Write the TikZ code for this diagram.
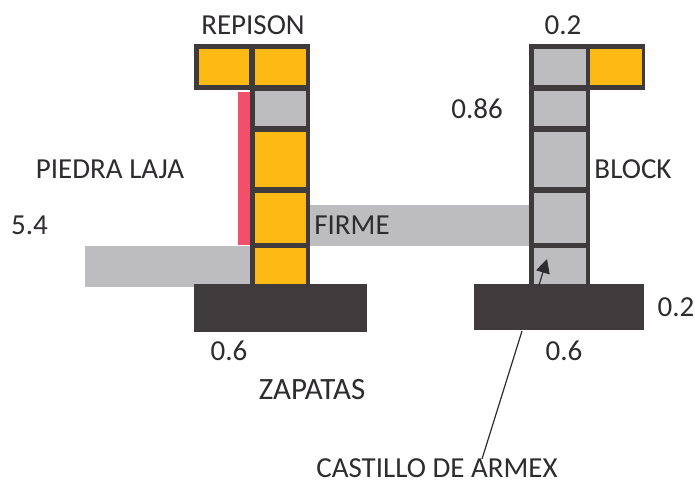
\documentclass[tikz,border=0pt]{standalone}
\usepackage{fontspec}
\usetikzlibrary{arrows.meta}
\setmainfont{Carlito}
\definecolor{wallc}{HTML}{3F3A3B}
\definecolor{yel}{HTML}{FDB913}
\definecolor{gry}{HTML}{BDBDC0}
\definecolor{redc}{HTML}{F2506A}
\definecolor{ink}{HTML}{2E2C2E}
\tikzset{
  x=1pt,y=-1pt,
  lbl/.style={text=ink,font=\fontsize{29}{31}\selectfont,inner sep=0pt,anchor=base},
  wire/.style={draw=ink,line width=1.2pt},
}
\newcommand{\bx}[5]{\fill[#1] (#2,#3) rectangle (#4,#5);}
\begin{document}
\begin{tikzpicture}
\useasboundingbox (0,0) rectangle (695,487);
\fill[white] (0,0) rectangle (695,487);
% ground bands
\bx{gry}{85}{246}{250}{287}
\bx{gry}{310}{205}{530}{246}
% red stone
\bx{redc}{238}{92}{250}{245}
% left wall
\bx{wallc}{194}{44}{310}{90}
\bx{wallc}{249.5}{90}{310}{285}
\bx{yel}{199}{49}{249}{85}
\bx{yel}{255}{49}{306}{85}
\bx{gry}{255}{91}{306}{126}
\bx{yel}{255}{132}{306}{187}
\bx{yel}{255}{193}{306}{243}
\bx{yel}{255}{248}{306}{284}
% right wall
\bx{wallc}{529}{44}{645}{90}
\bx{wallc}{529}{90}{590}{285}
\bx{gry}{534}{49}{586}{85}
\bx{yel}{590}{49}{642}{85}
\bx{gry}{534}{91}{586}{126}
\bx{gry}{534}{132}{586}{187}
\bx{gry}{534}{193}{586}{243}
\bx{gry}{534}{248}{586}{284}
% footings
\bx{wallc}{194}{284}{367}{332}
\bx{wallc}{474}{284}{644}{330}
% labels
\node[lbl] (rep) at (253,35) {REPISON};
\node[lbl] (v02a) at (563,35) {0.2};
\node[lbl] (v086) at (477,118) {0.86};
\node[lbl] (laja) at (110,178) {PIEDRA LAJA};
\node[lbl] (blk) at (633,178) {BLOCK};
\node[lbl] (v54) at (29.5,234) {5.4};
\node[lbl] (firme) at (352,234) {FIRME};
\node[lbl] (v02b) at (676,316) {0.2};
\node[lbl] (v06a) at (229,360) {0.6};
\node[lbl] (v06b) at (564,360) {0.6};
\node[lbl,font=\fontsize{31}{33}\selectfont] (zap) at (312,399) {ZAPATAS};
\node[lbl] (arm) at (437,477) {CASTILLO DE ARMEX};
% connector and arrow
\coordinate (foot) at (522,331);
\coordinate (armtop) at (482,459);
\coordinate (a0) at (539,285);
\coordinate (a1) at (547,259);
\draw[wire] (foot) -- (armtop);
\draw[wire,-{Triangle[length=14pt,width=14pt]}] (a0) -- (a1);
\end{tikzpicture}
\end{document}
